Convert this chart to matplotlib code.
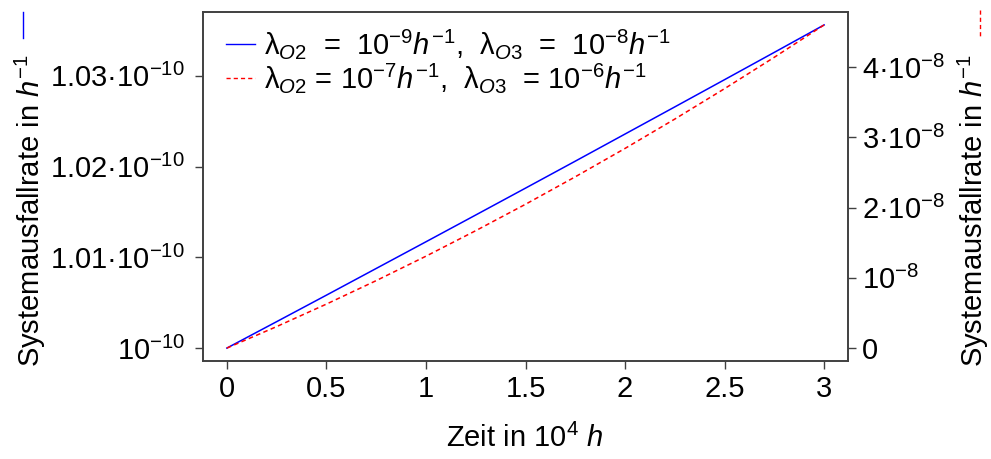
import matplotlib
matplotlib.use("Agg")
import matplotlib.pyplot as plt
from matplotlib.lines import Line2D

plt.rcParams["font.family"] = ["Liberation Sans", "DejaVu Sans"]
plt.rcParams["mathtext.fontset"] = "custom"
plt.rcParams["mathtext.rm"] = "Liberation Sans"
plt.rcParams["mathtext.it"] = "Liberation Sans:italic"
plt.rcParams["mathtext.bf"] = "Liberation Sans:bold"

# Zeit in 10^4 h
zeit = [0, 0.25, 0.5, 0.75, 1.0, 1.25, 1.5, 1.75, 2.0, 2.25, 2.5, 2.75, 3.0]

# lambda_O2 = 1e-9/h, lambda_O3 = 1e-8/h  (linke Achse)
rate_niedrig = [1.00000e-10, 1.00291e-10, 1.00583e-10, 1.00877e-10, 1.01171e-10,
                1.01466e-10, 1.01762e-10, 1.02059e-10, 1.02358e-10, 1.02657e-10,
                1.02957e-10, 1.03258e-10, 1.03560e-10]

# lambda_O2 = 1e-7/h, lambda_O3 = 1e-6/h  (rechte Achse)
rate_hoch = [0.0, 0.306e-8, 0.626e-8, 0.960e-8, 1.308e-8, 1.671e-8, 2.047e-8,
             2.438e-8, 2.842e-8, 3.260e-8, 3.693e-8, 4.140e-8, 4.600e-8]

x_ticks = [0, 0.5, 1, 1.5, 2, 2.5, 3]
x_labels = ["0", "0.5", "1", "1.5", "2", "2.5", "3"]

links_ticks = [1.00e-10, 1.01e-10, 1.02e-10, 1.03e-10]
links_labels = ["$10^{-10}$", "1.01·$10^{-10}$", "1.02·$10^{-10}$", "1.03·$10^{-10}$"]

rechts_ticks = [0, 1e-8, 2e-8, 3e-8, 4e-8]
rechts_labels = ["0", "$10^{-8}$", "2·$10^{-8}$", "3·$10^{-8}$", "4·$10^{-8}$"]

legende = [
    r"$\mathrm{λ}_{O2}$  =  $10^{-9}h^{-1}$,  $\mathrm{λ}_{O3}$  =  $10^{-8}h^{-1}$",
    r"$\mathrm{λ}_{O2}$ = $10^{-7}h^{-1}$,  $\mathrm{λ}_{O3}$  = $10^{-6}h^{-1}$",
]

GRAU = "#404040"
GESTRICHELT = (0, (3, 2.2))
FS = 21


def erweitert(werte, anteil=0.04):
    # wie in R: Achsenbereich um 4 % erweitern
    lo, hi = min(werte), max(werte)
    d = (hi - lo) * anteil
    return lo - d, hi + d


fig = plt.figure(figsize=(9.91, 4.59), dpi=100)
ax = fig.add_axes([203 / 991, 98 / 459, 645 / 991, 349 / 459])
ax2 = ax.twinx()

ax.plot(zeit, rate_niedrig, color="blue", lw=1.1)
ax2.plot(zeit, rate_hoch, color="red", lw=1.1, ls=GESTRICHELT)

ax.set_xlim(*erweitert(zeit))
ax.set_ylim(*erweitert(rate_niedrig))
ax2.set_ylim(*erweitert(rate_hoch))

ax.set_xticks(x_ticks, x_labels)
ax.set_yticks(links_ticks, links_labels)
ax2.set_yticks(rechts_ticks, rechts_labels)

for a in (ax, ax2):
    for s in a.spines.values():
        s.set_color(GRAU)
        s.set_linewidth(1.2)
ax.tick_params(axis="x", direction="out", length=6, width=1, color=GRAU, labelsize=FS, pad=4)
ax.tick_params(axis="y", direction="out", length=6, width=1, color=GRAU, labelsize=FS, pad=7)
ax2.tick_params(axis="y", direction="out", length=6, width=1, color=GRAU, labelsize=FS, pad=4)

griffe = [Line2D([], [], color="blue", lw=1), Line2D([], [], color="red", lw=1, ls=GESTRICHELT)]
ax2.legend(griffe, legende, loc="upper left", bbox_to_anchor=(226 / 991, 1 - 27 / 459),
           bbox_transform=fig.transFigure, frameon=False, fontsize=FS,
           handlelength=1.0, handletextpad=0.3, labelspacing=0.0,
           borderpad=0, borderaxespad=0)

# Achsenbeschriftungen mit kleinem Linienmuster wie im Original
fig.text(525 / 991, 1 - 438 / 459, "Zeit in $10^{4}$ $h$", ha="center", va="center", fontsize=FS)
fig.text(30 / 991, 1 - 211 / 459, "Systemausfallrate in $h^{-1}$", rotation=90,
         ha="center", va="center", fontsize=FS)
fig.text(973 / 991, 1 - 211 / 459, "Systemausfallrate in $h^{-1}$", rotation=90,
         ha="center", va="center", fontsize=FS)
fig.add_artist(Line2D([23 / 991, 23 / 991], [1 - 12 / 459, 1 - 38 / 459], color="blue", lw=1))
fig.add_artist(Line2D([980 / 991, 980 / 991], [1 - 10 / 459, 1 - 37 / 459], color="red",
                      lw=1, ls=GESTRICHELT))

fig.savefig("out.png", dpi=100)
